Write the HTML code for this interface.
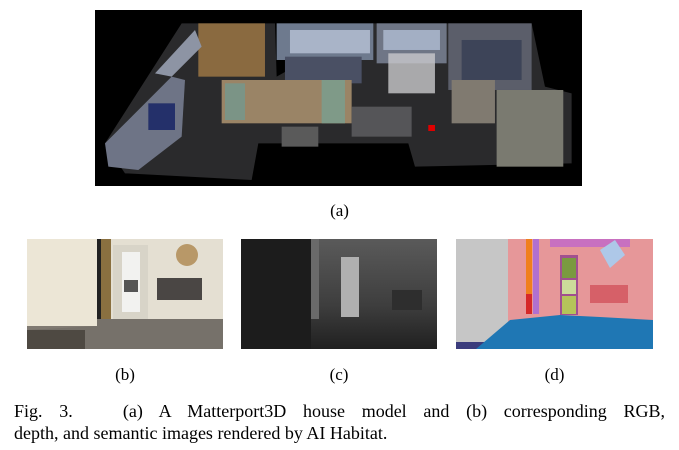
<!DOCTYPE html>
<html><head><style>
body{margin:0;background:#fff;width:679px;height:450px;position:relative;overflow:hidden;font-family:"Liberation Serif",serif;color:#000}
.l{position:absolute;font-size:17px;text-align:center}
</style></head><body>
<svg style="position:absolute;left:0;top:0" width="679" height="450">
<rect x="95" y="10" width="487" height="176" fill="#000"/>
<g transform="translate(95,10) scale(0.3333,0.3333)">
<polygon points="30,400 260,40 540,40 545,200 830,40 1310,40 1350,230 1430,250 1430,460 960,470 940,400 490,400 470,510 90,490" fill="#2a2a2c"/>
<rect x="310" y="40" width="200" height="160" fill="#8a6a40"/>
<rect x="545" y="40" width="290" height="110" fill="#6e7a8e"/>
<rect x="585" y="60" width="240" height="70" fill="#a9b4c8"/>
<rect x="845" y="40" width="210" height="120" fill="#6f7686"/>
<rect x="865" y="60" width="170" height="60" fill="#a3afc4"/>
<rect x="1060" y="40" width="250" height="200" fill="#5b5e6a"/>
<rect x="1100" y="90" width="180" height="120" fill="#3d4458"/>
<rect x="570" y="140" width="230" height="80" fill="#4a5064"/>
<rect x="880" y="130" width="140" height="120" fill="#c9c9cc" opacity="0.8"/>
<rect x="380" y="210" width="390" height="130" fill="#9a8466"/>
<rect x="680" y="210" width="70" height="130" fill="#7f9a88"/>
<rect x="390" y="220" width="60" height="110" fill="#7b9486"/>
<polygon points="30,400 230,200 270,210 260,380 130,480 40,470" fill="#6e7486"/>
<polygon points="180,190 300,60 320,110 230,200" fill="#8d94a4"/>
<rect x="160" y="280" width="80" height="80" fill="#24306a"/>
<rect x="1070" y="210" width="130" height="130" fill="#807a70"/>
<rect x="1205" y="240" width="200" height="230" fill="#7a7a70"/>
<rect x="770" y="290" width="180" height="90" fill="#555558"/>
<rect x="560" y="350" width="110" height="60" fill="#5a5a5a"/>
<rect x="1000" y="345" width="20" height="18" fill="#e00000"/>
</g>
<rect x="27" y="239" width="196" height="110" fill="#e4dfd2"/>
<rect x="27" y="239" width="70" height="110" fill="#ece6d6"/>
<rect x="97" y="239" width="4" height="80" fill="#222"/>
<rect x="101" y="239" width="10" height="80" fill="#8a7040"/>
<rect x="113" y="245" width="35" height="75" fill="#d8d4c8"/>
<rect x="122" y="252" width="18" height="60" fill="#f2f2f0"/>
<rect x="124" y="280" width="14" height="12" fill="#555"/>
<rect x="157" y="278" width="45" height="22" fill="#4a4644"/>
<rect x="27" y="326" width="196" height="23" fill="#807a72"/>
<polygon points="97,319 223,319 223,349 27,349 27,330 97,326" fill="#76716a"/>
<rect x="27" y="330" width="58" height="19" fill="#4e4942"/>
<circle cx="187" cy="255" r="11" fill="#b89868"/>
<defs><linearGradient id="cg" x1="0" y1="0" x2="0" y2="1"><stop offset="0" stop-color="#5a5a5a"/><stop offset="0.6" stop-color="#3e3e3e"/><stop offset="1" stop-color="#202020"/></linearGradient></defs>
<rect x="241" y="239" width="196" height="110" fill="url(#cg)"/>
<rect x="241" y="239" width="70" height="110" fill="#1c1c1c"/>
<rect x="311" y="239" width="8" height="80" fill="#6a6a6a"/>
<rect x="341" y="257" width="18" height="60" fill="#b0b0b0"/>
<rect x="392" y="290" width="30" height="20" fill="#2e2e2e"/>
<rect x="456" y="239" width="197" height="110" fill="#e69799"/>
<rect x="456" y="239" width="52" height="103" fill="#c6c6c6"/>
<rect x="456" y="342" width="30" height="7" fill="#3b3c7c"/>
<rect x="526" y="239" width="6" height="55" fill="#f07f1c"/>
<rect x="526" y="294" width="6" height="20" fill="#d62828"/>
<rect x="533" y="239" width="6" height="75" fill="#b070d0"/>
<rect x="560" y="255" width="18" height="60" fill="#a0508f"/>
<rect x="562" y="258" width="14" height="20" fill="#7a9a40"/>
<rect x="562" y="280" width="14" height="14" fill="#ccdc9a"/>
<rect x="562" y="296" width="14" height="18" fill="#b5c45a"/>
<rect x="550" y="239" width="80" height="8" fill="#c870c0"/>
<rect x="590" y="285" width="38" height="18" fill="#d66068"/>
<polygon points="476,349 510,320 560,315 600,317 653,320 653,349" fill="#1f77b4"/>
<polygon points="600,250 615,240 625,255 610,268" fill="#aec8e8"/>
</svg>
<div class="l" style="left:0;width:679px;top:201px">(a)</div>
<div class="l" style="left:27px;width:196px;top:365px">(b)</div>
<div class="l" style="left:241px;width:196px;top:365px">(c)</div>
<div class="l" style="left:456px;width:197px;top:365px">(d)</div>
<div class="l" style="left:14px;width:651px;top:400px;font-size:18px;text-align:justify;text-align-last:justify;line-height:23px">Fig. 3. &nbsp;&nbsp;(a) A Matterport3D house model and (b) corresponding RGB,</div>
<div class="l" style="left:14px;top:423px;font-size:18px;text-align:left;white-space:nowrap">depth, and semantic images rendered by AI Habitat.</div>
</body></html>
